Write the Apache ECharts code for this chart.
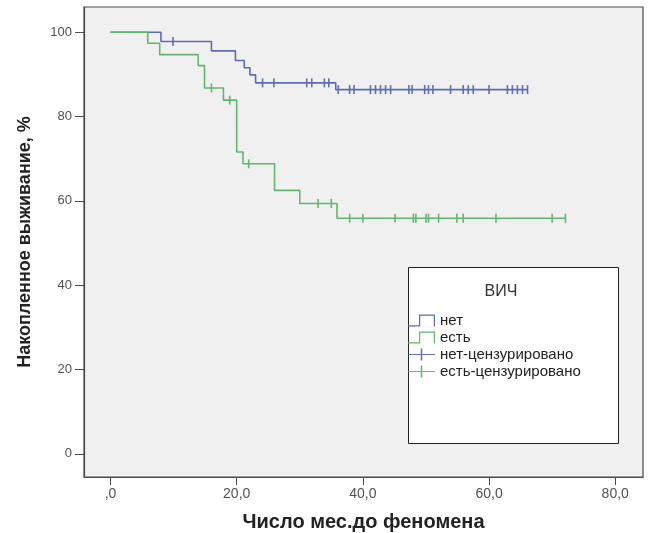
<!DOCTYPE html>
<html>
<head>
<meta charset="utf-8">
<script src="https://cdn.jsdelivr.net/npm/echarts@6/dist/echarts.min.js"></script>
<style>
  html, body { margin: 0; padding: 0; background: #fff; }
  #main { width: 651px; height: 533px; }
</style>
</head>
<body>
<div id="main"></div>
<script>
// ВИЧ: нет (blue), есть (green) - Kaplan-Meier steps
const noTime = [0, 8.0, 16.0, 19.8, 21.2, 22.1, 23.0, 35.7, 66.1]
const noSurv = [100, 97.8, 95.6, 93.3, 91.6, 89.9, 88.0, 86.4, 86.4]
const noCensTime = [9.9, 24.1, 25.9, 31.1, 31.9, 33.9, 34.6, 36.1, 37.9, 38.6, 41.2, 42.0, 42.8, 43.6, 44.4,
  47.3, 47.8, 49.8, 50.4, 51.1, 53.9, 55.9, 56.7, 57.5, 60.0, 62.9, 63.7, 64.5, 65.3, 66.1]

const yesTime = [0, 5.9, 7.8, 13.9, 14.9, 17.9, 20.0, 21.0, 26.0, 30.0, 35.9, 72.1]
const yesSurv = [100, 97.4, 94.7, 92.1, 86.8, 83.9, 71.6, 68.8, 62.5, 59.4, 55.9, 55.9]
const yesCensTime = [16.0, 18.9, 21.9, 32.9, 35.0, 37.9, 40.0, 45.1, 48.0, 48.4, 50.0, 50.4, 52.0,
  54.9, 55.9, 61.1, 70.0, 72.1]

const xTicks = [0, 20, 40, 60, 80]
const yTicks = [0, 20, 40, 60, 80, 100]

const FONT = 'Arial, "Liberation Sans", sans-serif'
const BLUE = '#5c6cb4'
const GREEN = '#5fb86b'

// censored mark sits on the curve value at that time
function survAt(times, surv, t) {
  let v = surv[0]
  for (let i = 0; i < times.length; i++) {
    if (times[i] <= t) v = surv[i]
  }
  return v
}

const noLine = noTime.map((t, i) => [t, noSurv[i]])
const yesLine = yesTime.map((t, i) => [t, yesSurv[i]])
const noCens = noCensTime.map((t) => [t, survAt(noTime, noSurv, t)])
const yesCens = yesCensTime.map((t) => [t, survAt(yesTime, yesSurv, t)])

const stepIcon = 'path://M0,10.8 L11,10.8 L11,0 L27,0 L27,12 L25.8,12 L25.8,1.2 L12.2,1.2 L12.2,12 L0,12 Z'
const censIcon = 'path://M0,5.4 L27,5.4 L27,6.6 L0,6.6 Z M12.7,0 L14.3,0 L14.3,12 L12.7,12 Z'

const chart = echarts.init(document.getElementById('main'), null, { renderer: 'canvas' })

const option = {
  animation: false,
  backgroundColor: '#ffffff',
  textStyle: { fontFamily: FONT },
  grid: {
    left: 84,
    top: 7,
    right: 8,
    bottom: 56,
    outerBoundsMode: 'none',
    show: true,
    backgroundColor: '#f0f0f0',
    borderColor: '#4a4a4a',
    borderWidth: 1.2,
  },
  xAxis: {
    type: 'value',
    min: -4.2,
    max: 84.4,
    name: 'Число мес.до феномена',
    nameLocation: 'middle',
    nameGap: 35,
    nameTextStyle: { fontFamily: FONT, fontSize: 20, fontWeight: 'bold', color: '#222' },
    splitLine: { show: false },
    axisLine: { show: true, onZero: false, lineStyle: { color: '#4a4a4a', width: 1.2 } },
    axisTick: { show: true, length: 8, customValues: xTicks, lineStyle: { color: '#4a4a4a' } },
    axisLabel: {
      customValues: xTicks,
      margin: 10,
      fontSize: 14,
      color: '#505050',
      fontFamily: FONT,
      formatter: (v) => (v === 0 ? ',0' : v.toFixed(1).replace('.', ',')),
    },
  },
  yAxis: {
    type: 'value',
    min: -5.5,
    max: 106,
    name: 'Накопленное выживание, %',
    nameLocation: 'middle',
    nameGap: 50,
    nameTextStyle: { fontFamily: FONT, fontSize: 18, fontWeight: 'bold', color: '#222' },
    splitLine: { show: false },
    axisLine: { show: true, onZero: false, lineStyle: { color: '#4a4a4a', width: 1.2 } },
    axisTick: { show: true, length: 9, customValues: yTicks, lineStyle: { color: '#4a4a4a' } },
    axisLabel: {
      customValues: yTicks,
      margin: 12,
      fontSize: 13,
      color: '#505050',
      fontFamily: FONT,
    },
  },
  legend: {
    orient: 'vertical',
    left: 403,
    top: 308,
    itemWidth: 27,
    itemHeight: 12,
    itemGap: 2,
    selectedMode: false,
    z: 10,
    itemStyle: { borderWidth: 0 },
    textStyle: { fontFamily: FONT, fontSize: 15, color: '#222' },
    data: [
      { name: 'нет', icon: stepIcon },
      { name: 'есть', icon: stepIcon },
      { name: 'нет-цензурировано', icon: censIcon },
      { name: 'есть-цензурировано', icon: censIcon },
    ],
  },
  graphic: [
    {
      type: 'rect',
      z: 3,
      shape: { x: 408.5, y: 267.5, width: 210, height: 176 },
      style: { fill: '#ffffff', stroke: '#222', lineWidth: 1 },
    },
    {
      type: 'text',
      z: 4,
      x: 501,
      y: 292,
      style: {
        text: 'ВИЧ',
        fill: '#333',
        font: '16px ' + FONT,
        textAlign: 'center',
        textVerticalAlign: 'middle',
      },
    },
  ],
  series: [
    {
      name: 'нет',
      type: 'line',
      step: 'end',
      symbol: 'none',
      color: BLUE,
      lineStyle: { color: BLUE, width: 1.6 },
      data: noLine,
    },
    {
      name: 'есть',
      type: 'line',
      step: 'end',
      symbol: 'none',
      color: GREEN,
      lineStyle: { color: GREEN, width: 1.6 },
      data: yesLine,
    },
    {
      name: 'нет-цензурировано',
      type: 'scatter',
      symbol: 'rect',
      symbolSize: [1.6, 9],
      color: '#3f50a0',
      itemStyle: { color: '#3f50a0' },
      data: noCens,
    },
    {
      name: 'есть-цензурировано',
      type: 'scatter',
      symbol: 'rect',
      symbolSize: [1.6, 9],
      color: '#44a552',
      itemStyle: { color: '#44a552' },
      data: yesCens,
    },
  ],
}

chart.setOption(option)
</script>
</body>
</html>
